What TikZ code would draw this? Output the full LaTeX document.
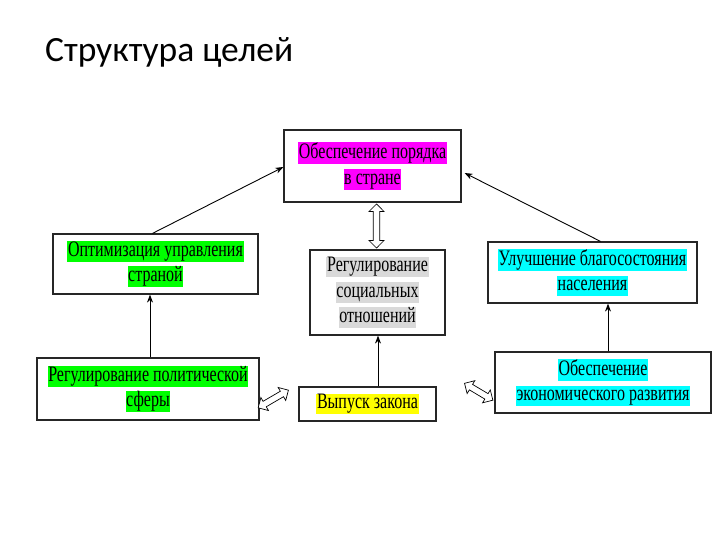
\documentclass[tikz,border=0pt]{standalone}
\usepackage{fontspec}
\usepackage{graphicx}
\setmainfont{Liberation Serif}
\newfontfamily\titlefont{Carlito}
\usetikzlibrary{shapes.arrows,arrows.meta}
\definecolor{hlmag}{RGB}{255,0,255}
\definecolor{hlgrn}{RGB}{0,255,0}
\definecolor{hlcyn}{RGB}{0,255,255}
\definecolor{hlyel}{RGB}{255,255,0}
\definecolor{hlgry}{RGB}{217,217,217}
\newcommand{\hlx}[2]{{\setlength{\fboxsep}{0.6pt}\colorbox{#1}{\scalebox{1}[1.38]{\vphantom{Ру}#2}}}}
\newcommand{\gfont}{\fontsize{16}{25.5}\selectfont\lineskiplimit=-10pt\relax\lineskip=0pt\relax}
\tikzset{
  goal/.style={draw=black!85, line width=1.2pt, fill=white, align=center, inner sep=0pt,
    font=\gfont},
  link/.style={-{Stealth[length=8pt,width=6pt]}, line width=0.9pt},
  dbl/.style={double arrow, draw=black, line width=0.7pt, fill=white, inner sep=2.2pt,
    minimum width=15pt, double arrow head extend=3.5pt}
}
\begin{document}
\begin{tikzpicture}[x=1pt,y=-1pt]
\useasboundingbox (0,0) rectangle (720,540);
\node[anchor=base west, inner sep=0pt, font=\titlefont\fontsize{35.5}{40}\selectfont] (title) at (45,62) {Структура целей};

\node[goal, minimum width=177pt, minimum height=72pt] (top) at (372.5,166)
  {\hlx{hlmag}{Обеспечение порядка}\\\hlx{hlmag}{в стране}};
\node[goal, minimum width=205pt, minimum height=60pt] (opt) at (155.5,264)
  {\hlx{hlgrn}{Оптимизация управления}\\\hlx{hlgrn}{страной}};
\node[goal, minimum width=135pt, minimum height=85pt] (soc) at (377.5,292.5)
  {\hlx{hlgry}{Регулирование}\\\hlx{hlgry}{социальных}\\\hlx{hlgry}{отношений}};
\node[goal, minimum width=209pt, minimum height=61pt] (ulu) at (592.5,272.5)
  {\hlx{hlcyn}{Улучшение благосостояния}\\\hlx{hlcyn}{населения}};
\node[goal, minimum width=222pt, minimum height=62pt] (pol) at (148,389)
  {\hlx{hlgrn}{Регулирование политической}\\\hlx{hlgrn}{сферы}};
\node[goal, minimum width=137pt, minimum height=34pt] (vyp) at (367.5,404)
  {\hlx{hlyel}{Выпуск закона}};
\node[goal, minimum width=216pt, minimum height=61pt] (eco) at (603,382.5)
  {\hlx{hlcyn}{Обеспечение}\\\hlx{hlcyn}{экономического развития}};

\draw[link] ([xshift=-3pt]opt.north) -- ([yshift=-1pt]top.west);
\draw[link] ([xshift=8pt]ulu.north) -- ([xshift=3pt,yshift=-7pt]top.east);
\draw[link] ([xshift=2pt]pol.north) -- ([xshift=2pt]pol.north |- opt.south);
\draw[link] ([xshift=10.5pt]vyp.north) -- ([xshift=10.5pt]vyp.north |- soc.south);
\draw[link] ([xshift=5pt]eco.north) -- ([xshift=5pt]eco.north |- ulu.south);

\path ([xshift=4pt]top.south) -- ([xshift=-1pt]soc.north)
  node[dbl, midway, minimum height=44pt, rotate=90] (d1) {};
\coordinate (a1) at ([shift={(0pt,-18pt)}]pol.east);
\coordinate (a2) at (287,391);
\path (a1) -- (a2) node[dbl, midway, minimum height=35pt, sloped] (d2) {};
\coordinate (b1) at (464,383);
\coordinate (b2) at ([shift={(-1pt,-18pt)}]eco.west);
\path (b1) -- (b2) node[dbl, midway, minimum height=33pt, sloped] (d3) {};
\end{tikzpicture}
\end{document}
